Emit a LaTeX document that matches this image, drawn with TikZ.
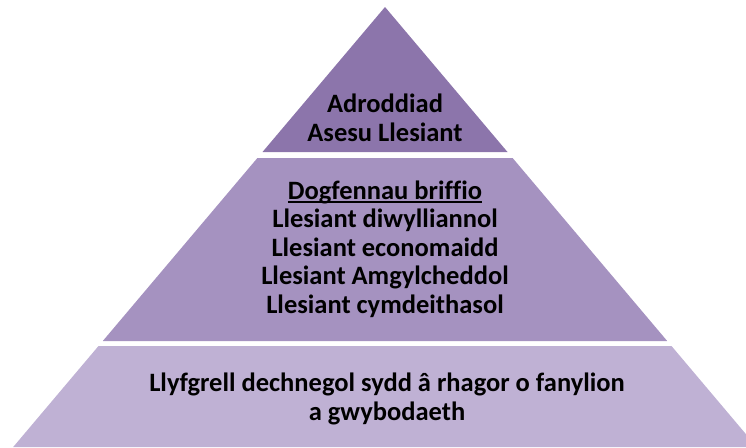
\documentclass[tikz,border=0pt]{standalone}
\usepackage{fontspec}
\setmainfont{Carlito}[Ligatures=NoCommon]
\definecolor{tiertop}{RGB}{140,117,171}
\definecolor{tiermid}{RGB}{165,146,192}
\definecolor{tierbot}{RGB}{191,177,212}
\newcommand\myul[1]{\setbox0\hbox{#1}\rlap{\rule[-3.4pt]{\wd0}{1.4pt}}\box0}
\tikzset{
  tiertext/.style={align=center, text=black, inner sep=0pt,
    font=\bfseries\fontsize{26.5}{28.5}\selectfont}
}
\begin{document}
\begin{tikzpicture}[x=1pt,y=-1pt]
\useasboundingbox (0,0) rectangle (746,447);
\begin{scope}
\clip (0,0) rectangle (746,447);
\fill[tiertop] (385,7) -- (507.5,152) -- (262.5,152) -- cycle;
\fill[tiermid] (257.4,158) -- (512.6,158) -- (667.2,341) -- (102.8,341) -- cycle;
\fill[tierbot] (98.5,346) -- (671.5,346) -- (756.8,447) -- (13.2,447) -- cycle;
\end{scope}
\node[tiertext] (top) at (385,118) {Adroddiad\\Asesu Llesiant};
\node[tiertext] (mid) at (385,249) {\myul{Dogfennau briffio}\\Llesiant diwylliannol\\Llesiant economaidd\\Llesiant Amgylcheddol\\Llesiant cymdeithasol};
\node[tiertext] (bot) at (387,399) {Llyfgrell dechnegol sydd â rhagor o fanylion\\a gwybodaeth};
\end{tikzpicture}
\end{document}
